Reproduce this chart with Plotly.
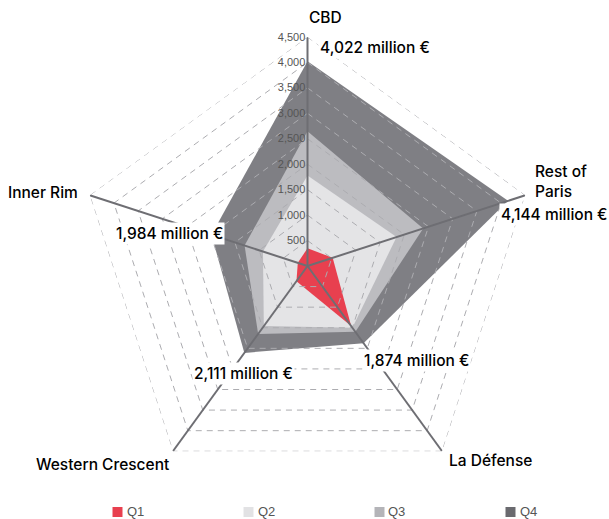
import plotly.graph_objects as go

# Office take-up by sub-market, cumulative by quarter (million €)
categories = ["CBD", "Rest of Paris", "La Défense", "Western Crescent", "Inner Rim"]
q1 = [350, 520, 1460, 370, 200]
q2 = [1780, 1840, 1500, 1460, 920]
q3 = [2650, 2390, 1600, 1650, 1300]
q4 = [4022, 4144, 1874, 2111, 1984]
series_names = ["Q1", "Q2", "Q3", "Q4"]
series_values = [q1, q2, q3, q4]
series_colors = ["#e8404f", "#e4e4e6", "#bcbcc0", "#7f7f84"]
legend_colors = ["#e8404f", "#e2e2e4", "#b4b4b8", "#6a6a6f"]
radial_ticks = [500, 1000, 1500, 2000, 2500, 3000, 3500, 4000, 4500]

W, H = 609, 519
FONT = "Liberation Sans, Arial, Helvetica, sans-serif"
LABEL_FONT = "Inter, Liberation Sans, Arial, sans-serif"

fig = go.Figure()

closed_theta = categories + [categories[0]]

# stacked areas, largest first so the inner quarters sit on top
for name, vals, col in reversed(list(zip(series_names, series_values, series_colors))):
    fig.add_trace(go.Scatterpolar(
        r=vals + [vals[0]], theta=closed_theta, mode="lines",
        fill="toself", fillcolor=col, line=dict(width=0, color=col),
        showlegend=False, hoverinfo="skip", name=name,
    ))

# dashed polygon grid drawn over the areas
for t in radial_ticks:
    fig.add_trace(go.Scatterpolar(
        r=[t] * (len(categories) + 1), theta=closed_theta, mode="lines",
        line=dict(color="#acacb0", width=1, dash="6px,5px"),
        showlegend=False, hoverinfo="skip",
    ))

# spokes
for c in categories:
    fig.add_trace(go.Scatterpolar(
        r=[0, radial_ticks[-1]], theta=[c, c], mode="lines",
        line=dict(color="#6e6e73", width=2),
        showlegend=False, hoverinfo="skip",
    ))


def px(x, y):
    return x / W, 1 - y / H


annotations = []
shapes = []

# sub-market names
cat_pos = {
    "CBD": (307, 18, "left"),
    "Rest of Paris": (533, 181, "left"),
    "La Défense": (447, 460, "left"),
    "Western Crescent": (171, 464, "right"),
    "Inner Rim": (80, 192, "right"),
}
for c in categories:
    x, y, anc = cat_pos[c]
    ax, ay = px(x, y)
    text = c.replace("Rest of Paris", "Rest of<br>Paris")
    annotations.append(dict(
        x=ax, y=ay, xref="paper", yref="paper", text=text, showarrow=False,
        xanchor=anc, yanchor="middle", align="left",
        font=dict(family=LABEL_FONT, size=15.5, color="#000000", weight=500),
    ))

# Q4 totals
total_pos = {
    "CBD": (375, 48),
    "Rest of Paris": (554, 214),
    "La Défense": (416, 360),
    "Western Crescent": (243, 373),
    "Inner Rim": (169, 233),
}
for c, v in zip(categories, q4):
    x, y = total_pos[c]
    ax, ay = px(x, y)
    annotations.append(dict(
        x=ax, y=ay, xref="paper", yref="paper", text=f"{v:,} million €",
        showarrow=False, xanchor="center", yanchor="middle",
        bgcolor="#ffffff", borderpad=1,
        font=dict(family=LABEL_FONT, size=15.5, color="#000000", weight=500),
    ))

# legend row: square swatch + label per quarter
LEG_X0, LEG_STEP, LEG_Y, SW = 112.5, 131, 512, 10
for i, (name, col) in enumerate(zip(series_names, legend_colors)):
    x0 = LEG_X0 + i * LEG_STEP
    shapes.append(dict(
        type="rect", xref="paper", yref="paper",
        x0=x0 / W, x1=(x0 + SW) / W,
        y0=1 - (LEG_Y + SW / 2) / H, y1=1 - (LEG_Y - SW / 2) / H,
        fillcolor=col, line=dict(width=0),
    ))
    lx, ly = px(x0 + SW + 3, LEG_Y - 0.5)
    annotations.append(dict(
        x=lx, y=ly, xref="paper", yref="paper", text=name, showarrow=False,
        xanchor="left", yanchor="middle", borderpad=0,
        font=dict(family=FONT, size=13, color="#555555"),
    ))

fig.update_layout(
    width=W, height=H,
    margin=dict(l=0, r=0, t=0, b=0, autoexpand=False),
    paper_bgcolor="#ffffff",
    plot_bgcolor="#ffffff",
    font=dict(family=FONT, color="#444444"),
    polar=dict(
        domain=dict(x=[50 / W, 565 / W], y=[24 / H, (H - 37) / H]),
        bgcolor="rgba(0,0,0,0)",
        gridshape="linear",
        angularaxis=dict(
            type="category", categoryarray=categories,
            direction="clockwise", rotation=90,
            showticklabels=False, showgrid=False, showline=False, ticks="",
        ),
        radialaxis=dict(
            range=[0, 4500], tickvals=radial_ticks, separatethousands=True,
            tickformat=",", angle=90, side="counterclockwise", tickangle=90,
            showgrid=False, showline=False, ticks="",
            tickfont=dict(family=FONT, size=11, color="#555555"),
        ),
    ),
    showlegend=False,
    annotations=annotations,
    shapes=shapes,
)

fig.write_html("out.html")
